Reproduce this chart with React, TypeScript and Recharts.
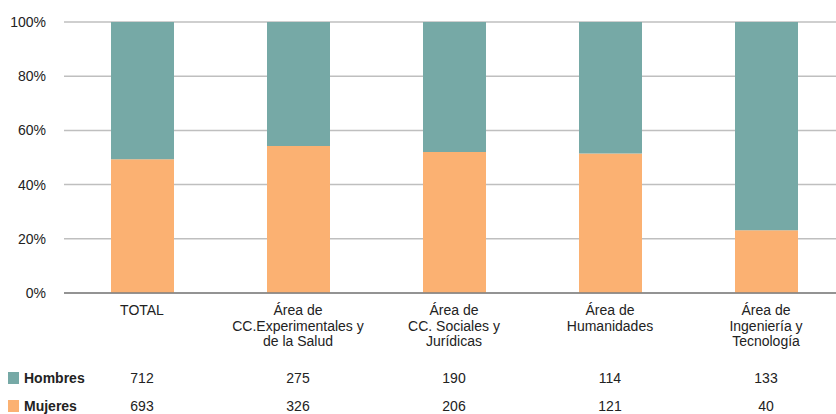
import { BarChart, Bar, XAxis, YAxis, CartesianGrid } from "recharts";

const CATEGORIAS = ["TOTAL", "CC.Exp", "CC.Soc", "Hum", "Ing"];
const ETIQUETAS = [
  ["TOTAL"],
  ["Área de", "CC.Experimentales y", "de la Salud"],
  ["Área de", "CC. Sociales y", "Jurídicas"],
  ["Área de", "Humanidades"],
  ["Área de", "Ingeniería y", "Tecnología"],
];
const HOMBRES = [712, 275, 190, 114, 133];
const MUJERES = [693, 326, 206, 121, 40];
const TICKS_Y = [0, 0.2, 0.4, 0.6, 0.8, 1];

const COLOR_HOMBRES = "#76a9a6";
const COLOR_MUJERES = "#fbb172";
const FUENTE = "'Liberation Sans Narrow', 'Liberation Sans', Arial, sans-serif";

const data = CATEGORIAS.map((c, i) => ({
  cat: c,
  hombres: HOMBRES[i],
  mujeres: MUJERES[i],
}));

function TickCategoria(props: any) {
  const { x, y, payload } = props;
  const i = payload.index;
  const lineas = ETIQUETAS[i] || [];
  return (
    <g fontFamily={FUENTE} fontSize={14} fill="#222">
      {lineas.map((l, k) => (
        <text key={k} x={x} y={y + 17 + k * 15.5} textAnchor="middle" dominantBaseline="central" fill="#222">
          {l}
        </text>
      ))}
      <text x={x} y={378} textAnchor="middle" dominantBaseline="central" fill="#222">
        {HOMBRES[i]}
      </text>
      <text x={x} y={406} textAnchor="middle" dominantBaseline="central" fill="#222">
        {MUJERES[i]}
      </text>
    </g>
  );
}

export default function App() {
  return (
    <div style={{ position: "fixed", top: 0, left: 0, width: 836, height: 414, overflow: "hidden", background: "#fff" }}>
      <BarChart
        width={844}
        height={414}
        data={data}
        stackOffset="expand"
        margin={{ top: 22, right: 0, bottom: 0, left: 0 }}
        barCategoryGap={0}
      >
        <CartesianGrid vertical={false} stroke="#bfbfbf" strokeWidth={1.5} />
        <YAxis
          width={64}
          ticks={TICKS_Y}
          domain={[0, 1]}
          axisLine={false}
          tickLine={false}
          tickSize={0}
          tickMargin={18}
          tickFormatter={(v: number) => `${Math.round(v * 100)}%`}
          tick={{ fontFamily: FUENTE, fontSize: 14, fill: "#222" }}
        />
        <XAxis
          dataKey="cat"
          height={121}
          interval={0}
          tickLine={false}
          tickSize={0}
          tickMargin={0}
          axisLine={{ stroke: "#7f7f7f", strokeWidth: 1.5 }}
          tick={<TickCategoria />}
        />
        <Bar dataKey="mujeres" stackId="a" fill={COLOR_MUJERES} barSize={63} isAnimationActive={false} />
        <Bar dataKey="hombres" stackId="a" fill={COLOR_HOMBRES} barSize={63} isAnimationActive={false} />
      </BarChart>
      <div style={{ position: "absolute", left: 8, top: 372, width: 11, height: 12, background: COLOR_HOMBRES }} />
      <div style={{ position: "absolute", left: 8, top: 400, width: 11, height: 12, background: COLOR_MUJERES }} />
      <div style={{ position: "absolute", left: 24, top: 369, fontFamily: FUENTE, fontSize: 14, fontWeight: 700, color: "#222", lineHeight: "18px" }}>
        Hombres
      </div>
      <div style={{ position: "absolute", left: 24, top: 397, fontFamily: FUENTE, fontSize: 14, fontWeight: 700, color: "#222", lineHeight: "18px" }}>
        Mujeres
      </div>
    </div>
  );
}
